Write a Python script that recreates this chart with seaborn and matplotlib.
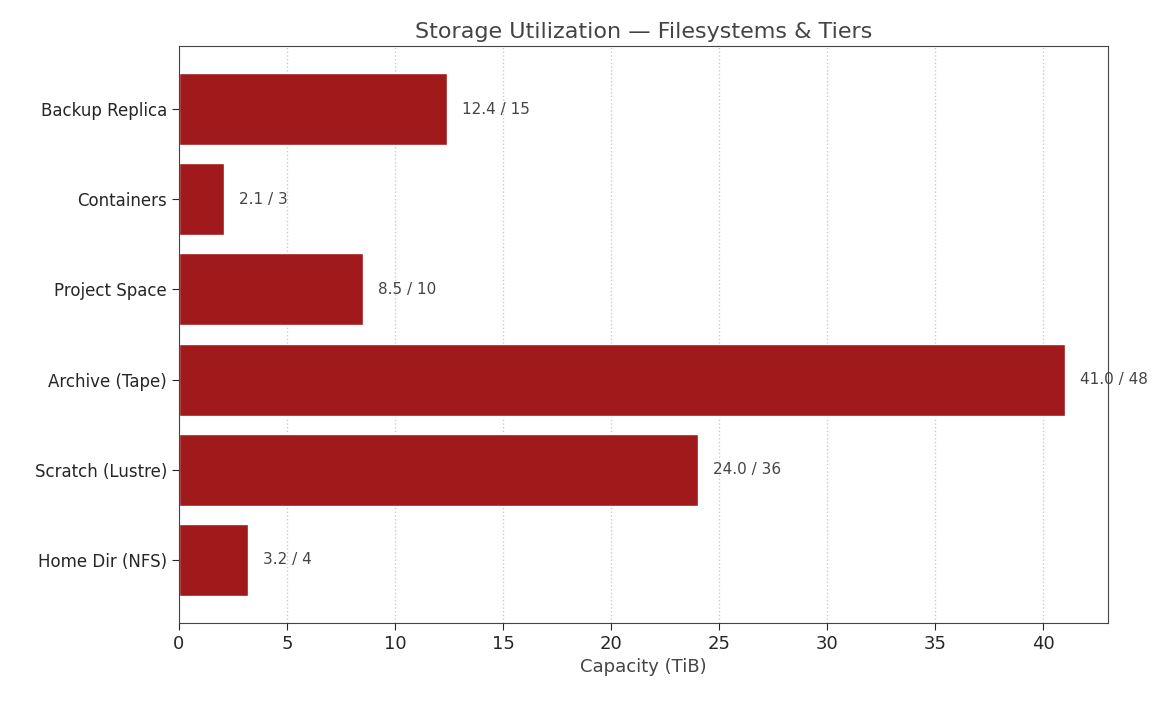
import matplotlib
matplotlib.use("Agg")
import matplotlib.pyplot as plt
import seaborn as sns
import pandas as pd

categories = ["Backup Replica", "Containers", "Project Space", "Archive (Tape)", "Scratch (Lustre)", "Home Dir (NFS)"]
used = [12.4, 2.1, 8.5, 41.0, 24.0, 3.2]
total = [15, 3, 10, 48, 36, 4]

df = pd.DataFrame({"cat": categories, "used": used})
sns.set_style("white")
fig = plt.figure(figsize=(11.69, 7.01), dpi=100)
ax = fig.add_axes([179/1169, 1-623/701, (1108-179)/1169, (623-46)/701])
sns.barplot(data=df, x="used", y="cat", orient="h", color="#A0191B", saturation=1, width=0.8, ax=ax)
for i, (u, t) in enumerate(zip(used, total)):
    ax.text(u + 0.7, i, f"{u:.1f} / {t}", va="center", ha="left", fontsize=11, color="#444444")
ax.set_xlim(0, 43)
ax.set_ylim(5.7, -0.7)
ax.set_xticks(range(0, 45, 5))
ax.grid(axis="x", linestyle=":", color="#cccccc", linewidth=1)
ax.set_axisbelow(True)
ax.set_ylabel("")
ax.set_xlabel("Capacity (TiB)", fontsize=13, color="#444444")
ax.set_title("Storage Utilization — Filesystems & Tiers", fontsize=16, color="#444444")
ax.tick_params(axis="both", labelsize=12, length=5, left=True, bottom=True)
ax.tick_params(axis="x", labelsize=13)
for s in ax.spines.values():
    s.set_color("#444444")
fig.savefig("out.png", dpi=100)
